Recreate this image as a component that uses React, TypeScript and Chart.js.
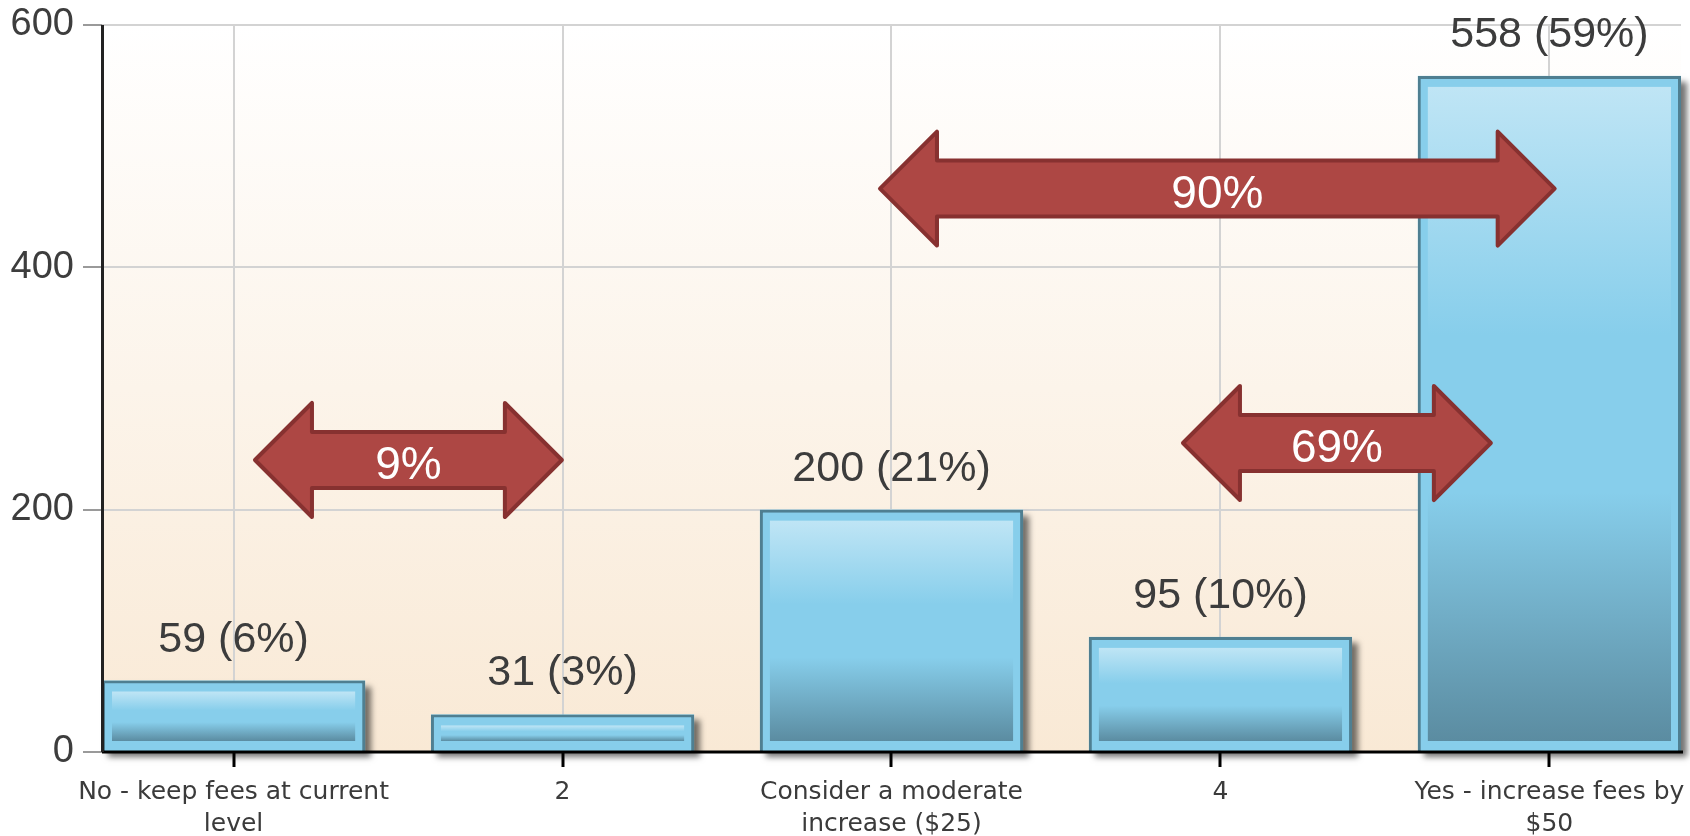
import React, { useEffect, useRef } from 'react';
import { Chart, registerables } from 'chart.js';

Chart.register(...registerables);

// ---- data ----
const categories: string[][] = [
  ['No - keep fees at current', 'level'],
  ['2'],
  ['Consider a moderate', 'increase ($25)'],
  ['4'],
  ['Yes - increase fees by', '$50'],
];
const counts = [59, 31, 200, 95, 558];
const percents = [6, 3, 21, 10, 59];
const yTicks = [0, 200, 400, 600];

// double-headed arrow annotations (x in category index units, y in value units)
const arrowFrom = [0.065, 1.965, 2.886];
const arrowTo = [0.998, 4.016, 3.822];
const arrowAt = [241, 465, 255];
const arrowText = ['9%', '90%', '69%'];

const bgPlugin = {
  id: 'bgGradient',
  beforeDraw(chart: any) {
    const { ctx, chartArea: a } = chart;
    const g = ctx.createLinearGradient(0, a.top, 0, a.bottom);
    g.addColorStop(0, '#ffffff');
    g.addColorStop(1, '#f9e9d5');
    ctx.save();
    ctx.fillStyle = g;
    ctx.fillRect(a.left, a.top, a.right - a.left, a.bottom - a.top);
    ctx.restore();
  },
};

const barDeco = {
  id: 'barDeco',
  beforeDatasetsDraw(chart: any) {
    const meta = chart.getDatasetMeta(0);
    const ctx = chart.ctx;
    ctx.save();
    ctx.shadowColor = 'rgba(0,0,0,0.55)';
    ctx.shadowBlur = 6;
    ctx.shadowOffsetX = 6;
    ctx.shadowOffsetY = 6;
    ctx.fillStyle = '#87ceeb';
    meta.data.forEach((el: any) => {
      const { x, y, base, width } = el.getProps(['x', 'y', 'base', 'width'], true);
      ctx.fillRect(x - width / 2, y, width, base - y);
    });
    ctx.restore();
  },
  afterDatasetsDraw(chart: any) {
    const meta = chart.getDatasetMeta(0);
    const ctx = chart.ctx;
    ctx.save();
    meta.data.forEach((el: any) => {
      const { x, y, base, width } = el.getProps(['x', 'y', 'base', 'width'], true);
      const l = x - width / 2 + 10;
      const r = x + width / 2 - 10;
      const t = y + 11;
      const b = base - 10;
      if (b <= t) return;
      const g = ctx.createLinearGradient(0, t, 0, b);
      g.addColorStop(0, '#bfe5f5');
      g.addColorStop(0.38, '#87ceeb');
      g.addColorStop(0.62, '#87ceeb');
      g.addColorStop(1, '#5b8ca1');
      ctx.fillStyle = g;
      ctx.fillRect(l, t, r - l, b - t);
    });
    const a = chart.chartArea;
    ctx.lineCap = 'butt';
    ctx.strokeStyle = '#000';
    ctx.lineWidth = 3;
    ctx.beginPath();
    ctx.moveTo(a.left, a.bottom);
    ctx.lineTo(a.right + 2, a.bottom);
    ctx.stroke();
    ctx.strokeStyle = '#222';
    ctx.beginPath();
    ctx.moveTo(a.left + 0.5, a.top);
    ctx.lineTo(a.left + 0.5, a.bottom);
    ctx.stroke();
    ctx.restore();
  },
  afterDraw(chart: any) {
    const meta = chart.getDatasetMeta(0);
    const ctx = chart.ctx;
    const xs = chart.scales.x;
    const ys = chart.scales.y;
    ctx.save();
    // value labels
    ctx.font = '43px "Liberation Sans", Arial, sans-serif';
    ctx.fillStyle = '#3c3c3c';
    ctx.textAlign = 'center';
    ctx.textBaseline = 'alphabetic';
    meta.data.forEach((el: any, i: number) => {
      ctx.fillText(`${counts[i]} (${percents[i]}%)`, el.x, el.y - 29);
    });
    // arrows
    const hl = 57, hh = 57, sh = 28;
    arrowText.forEach((txt, i) => {
      const x1 = xs.getPixelForValue(arrowFrom[i]);
      const x2 = xs.getPixelForValue(arrowTo[i]);
      const cy = ys.getPixelForValue(arrowAt[i]);
      ctx.beginPath();
      ctx.moveTo(x1, cy);
      ctx.lineTo(x1 + hl, cy - hh);
      ctx.lineTo(x1 + hl, cy - sh);
      ctx.lineTo(x2 - hl, cy - sh);
      ctx.lineTo(x2 - hl, cy - hh);
      ctx.lineTo(x2, cy);
      ctx.lineTo(x2 - hl, cy + hh);
      ctx.lineTo(x2 - hl, cy + sh);
      ctx.lineTo(x1 + hl, cy + sh);
      ctx.lineTo(x1 + hl, cy + hh);
      ctx.closePath();
      ctx.fillStyle = '#ad4744';
      ctx.fill();
      ctx.lineJoin = 'round';
      ctx.lineWidth = 4;
      ctx.strokeStyle = '#873130';
      ctx.stroke();
      ctx.font = '46px "Liberation Sans", Arial, sans-serif';
      ctx.fillStyle = '#ffffff';
      ctx.textAlign = 'center';
      ctx.textBaseline = 'alphabetic';
      ctx.fillText(txt, (x1 + x2) / 2, cy + 19);
    });
    ctx.restore();
  },
};

export default function App() {
  const ref = useRef<HTMLCanvasElement>(null);
  useEffect(() => {
    const chart = new Chart(ref.current as HTMLCanvasElement, {
      type: 'bar',
      data: {
        datasets: [
          {
            data: counts.map((v, i) => ({ x: i, y: v })),
            backgroundColor: '#87ceeb',
            borderColor: '#4f7f91',
            borderWidth: 3,
            barPercentage: 0.8,
            categoryPercentage: 1,
          },
        ],
      },
      options: {
        animation: false,
        responsive: false,
        layout: { padding: { top: 25, right: 9, left: 0, bottom: 0 } },
        plugins: { legend: { display: false }, tooltip: { enabled: false } },
        scales: {
          x: {
            type: 'linear',
            min: -0.4,
            max: 4.4,
            offset: false,
            afterBuildTicks: (s: any) => {
              s.ticks = categories.map((_, i) => ({ value: i }));
            },
            afterFit: (s: any) => {
              s.height = 84;
              s.paddingLeft = 0;
              s.paddingRight = 0;
            },
            grid: {
              offset: false,
              color: '#d3d3d3',
              lineWidth: 2,
              tickColor: '#000',
              tickWidth: 3,
              tickLength: 15,
            },
            border: { display: false },
            ticks: {
              autoSkip: false,
              maxRotation: 0,
              minRotation: 0,
              padding: 9,
              color: '#3b3b3b',
              font: { family: '"DejaVu Sans", Verdana, sans-serif', size: 25, lineHeight: 1.3 },
              callback: (v: any) => categories[v] ?? '',
            },
          },
          y: {
            min: 0,
            max: 600,
            afterBuildTicks: (s: any) => {
              s.ticks = yTicks.map((v) => ({ value: v }));
            },
            afterFit: (s: any) => {
              s.width = 102;
              s.paddingTop = 0;
              s.paddingBottom = 0;
            },
            grid: {
              color: '#d3d3d3',
              lineWidth: 2,
              tickColor: '#9a9a9a',
              tickWidth: 2,
              tickLength: 19,
            },
            border: { display: false },
            ticks: {
              padding: 9,
              color: '#3d3d3d',
              font: { family: '"Liberation Sans", Arial, sans-serif', size: 38 },
            },
          },
        },
      } as any,
      plugins: [bgPlugin, barDeco],
    });
    return () => chart.destroy();
  }, []);
  return (
    <div style={{ position: 'fixed', left: 0, top: 0, width: 1690, height: 836, background: '#fff' }}>
      <canvas ref={ref} width={1690} height={836} style={{ width: 1690, height: 836, display: 'block' }} />
    </div>
  );
}
